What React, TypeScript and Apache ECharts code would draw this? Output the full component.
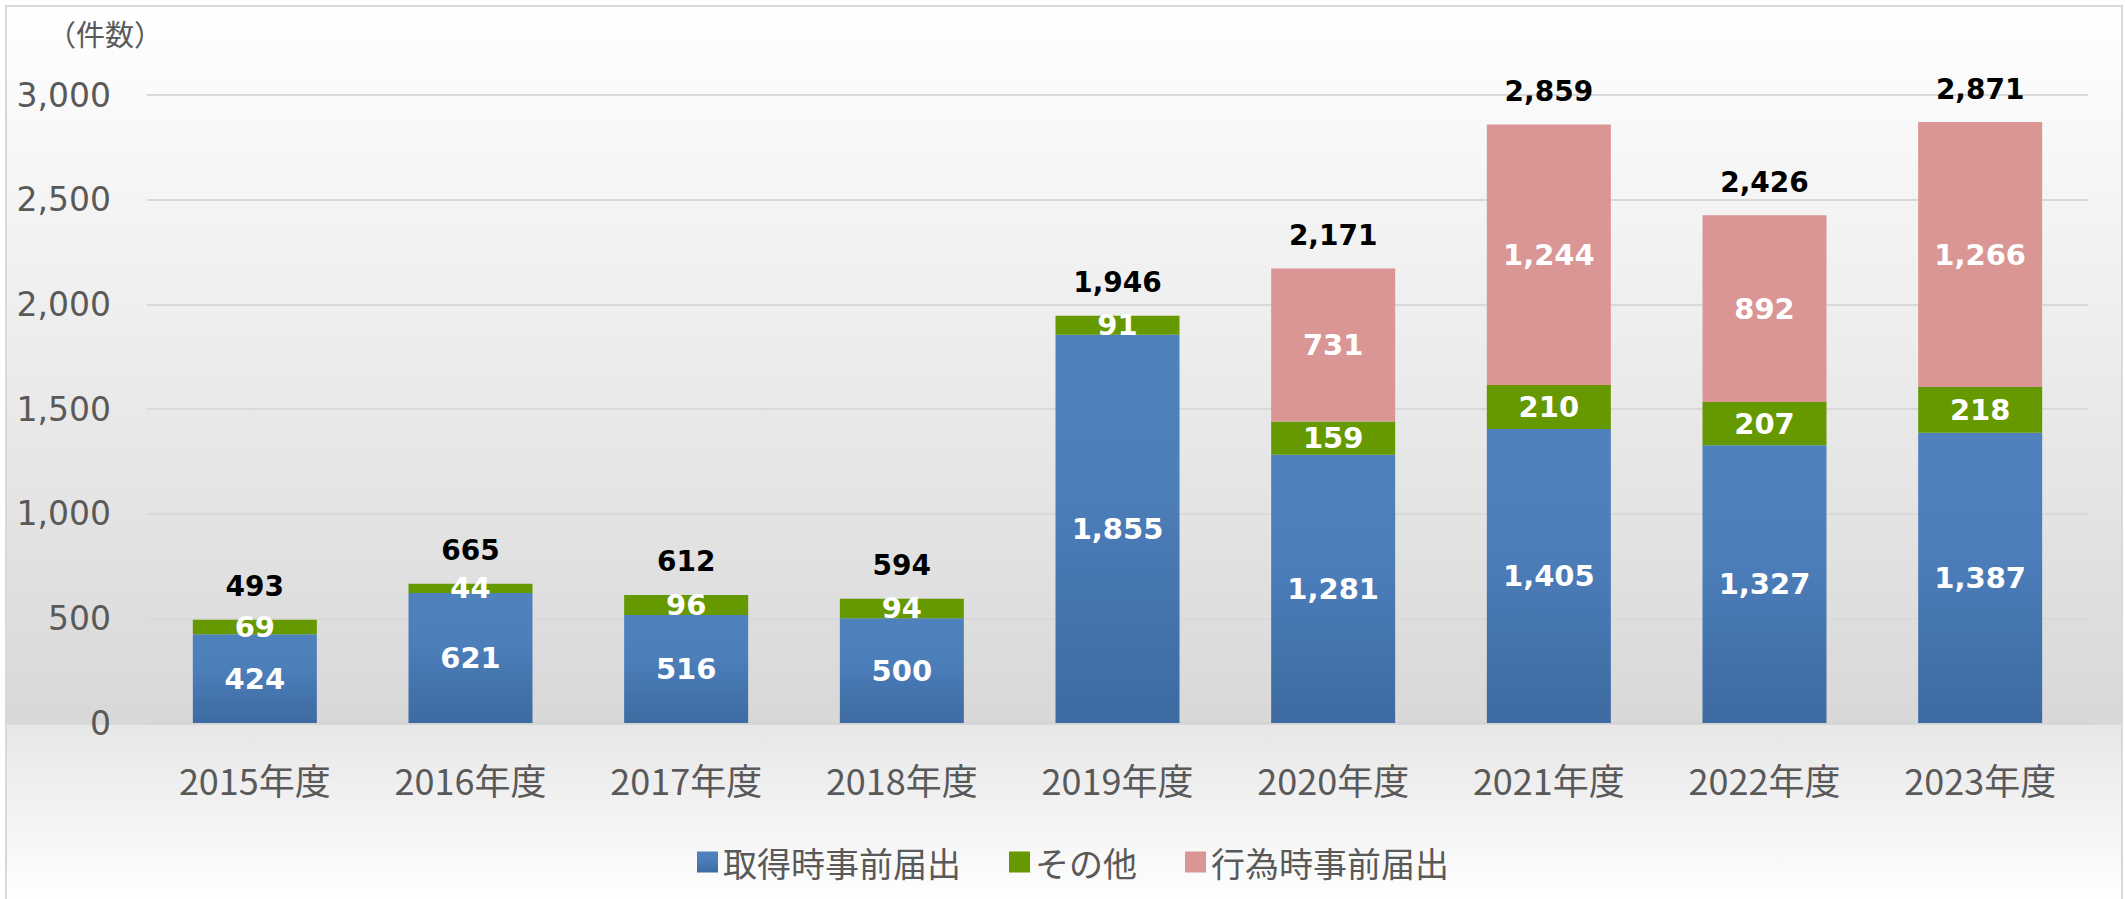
import React, { useEffect, useRef } from "react";
import * as echarts from "echarts";

const categories = ["2015年度", "2016年度", "2017年度", "2018年度", "2019年度", "2020年度", "2021年度", "2022年度", "2023年度"];
const acquisitionNotice = [424, 621, 516, 500, 1855, 1281, 1405, 1327, 1387];
const otherNotice = [69, 44, 96, 94, 91, 159, 210, 207, 218];
const actNotice: (number | null)[] = [null, null, null, null, null, 731, 1244, 892, 1266];
const seriesNames = ["取得時事前届出", "その他", "行為時事前届出"];
const yTicks = { min: 0, max: 3000, interval: 500 };
const unitLabel = "（件数）";

const totals = categories.map((_, i) => acquisitionNotice[i] + otherNotice[i] + (actNotice[i] ?? 0));

const fmt = (v: number) => Number(v).toLocaleString("en-US");

export default function App() {
  const ref = useRef<HTMLDivElement>(null);
  useEffect(() => {
    document.body.style.margin = "0";
    document.body.style.overflow = "hidden";
    const chart = echarts.init(ref.current!, null, { renderer: "svg" });
    const insideLabel = {
      show: true,
      position: "inside",
      color: "#ffffff",
      fontFamily: "DejaVu Sans",
      fontWeight: "bold",
      fontSize: 29,
      formatter: (p: any) => (p.value == null ? "" : fmt(p.value)),
    };
    chart.setOption({
      animation: false,
      graphic: [
        {
          type: "rect",
          z: -100,
          silent: true,
          shape: { x: 6, y: 6, width: 2116, height: 719 },
          style: {
            fill: new echarts.graphic.LinearGradient(0, 0, 0, 1, [
              { offset: 0, color: "#ffffff" },
              { offset: 1, color: "#d8d8d8" },
            ]),
          },
        },
        {
          type: "rect",
          z: -100,
          silent: true,
          shape: { x: 6, y: 725, width: 2116, height: 180 },
          style: {
            fill: new echarts.graphic.LinearGradient(0, 0, 0, 1, [
              { offset: 0, color: "#e7e7e7" },
              { offset: 1, color: "#ffffff" },
            ]),
          },
        },
        {
          type: "rect",
          z: 100,
          silent: true,
          shape: { x: 6, y: 6, width: 2116, height: 900 },
          style: { fill: "none", stroke: "#d9d9d9", lineWidth: 2 },
        },
        {
          type: "text",
          x: 47,
          y: 33,
          style: {
            text: unitLabel,
            fontSize: 29,
            fontFamily: "Noto Sans CJK JP",
            fill: "#595959",
            verticalAlign: "middle",
            align: "left",
          },
        },
      ],
      grid: { left: 147, right: 37, top: 95, bottom: 176, containLabel: false },
      legend: {
        data: seriesNames,
        left: 692,
        top: 840,
        itemWidth: 21,
        itemHeight: 21,
        itemGap: 48,
        icon: "rect",
        textStyle: { fontSize: 34, color: "#595959", fontFamily: "Noto Sans CJK JP" },
      },
      xAxis: {
        type: "category",
        data: categories,
        axisTick: { show: false },
        axisLine: { show: true, lineStyle: { color: "#d4d4d4", width: 2 } },
        axisLabel: { color: "#595959", fontSize: 36, fontFamily: "Noto Sans CJK JP", margin: 38 },
      },
      yAxis: {
        type: "value",
        min: yTicks.min,
        max: yTicks.max,
        interval: yTicks.interval,
        axisLine: { show: false },
        axisTick: { show: false },
        splitLine: { lineStyle: { color: "#d9d9d9", width: 2 } },
        axisLabel: { color: "#595959", fontSize: 33, fontFamily: "DejaVu Sans", margin: 36, formatter: (v: number) => fmt(v) },
      },
      series: [
        {
          name: seriesNames[0],
          type: "bar",
          stack: "total",
          barWidth: "57.5%",
          barGap: "-100%",
          data: acquisitionNotice,
          itemStyle: {
            color: new echarts.graphic.LinearGradient(0, 0, 0, 1, [
              { offset: 0, color: "#4f81bd" },
              { offset: 0.4, color: "#4c7eba" },
              { offset: 1, color: "#3d6aa1" },
            ]),
          },
          label: insideLabel,
        },
        {
          name: seriesNames[1],
          type: "bar",
          stack: "total",
          barWidth: "57.5%",
          barGap: "-100%",
          data: otherNotice,
          itemStyle: { color: "#669900" },
          label: insideLabel,
        },
        {
          name: seriesNames[2],
          type: "bar",
          stack: "total",
          barWidth: "57.5%",
          barGap: "-100%",
          data: actNotice,
          itemStyle: { color: "#da9694" },
          label: insideLabel,
        },
        {
          name: "合計",
          type: "bar",
          barWidth: "57.5%",
          barGap: "-100%",
          data: totals,
          silent: true,
          itemStyle: { color: "rgba(0,0,0,0)" },
          label: {
            show: true,
            position: "top",
            distance: 19,
            color: "#000000",
            fontFamily: "DejaVu Sans",
            fontWeight: "bold",
            fontSize: 28,
            formatter: (p: any) => fmt(p.value),
          },
          z: 5,
        },
      ],
    });
    return () => chart.dispose();
  }, []);
  return <div ref={ref} style={{ width: 2125, height: 899 }} />;
}
